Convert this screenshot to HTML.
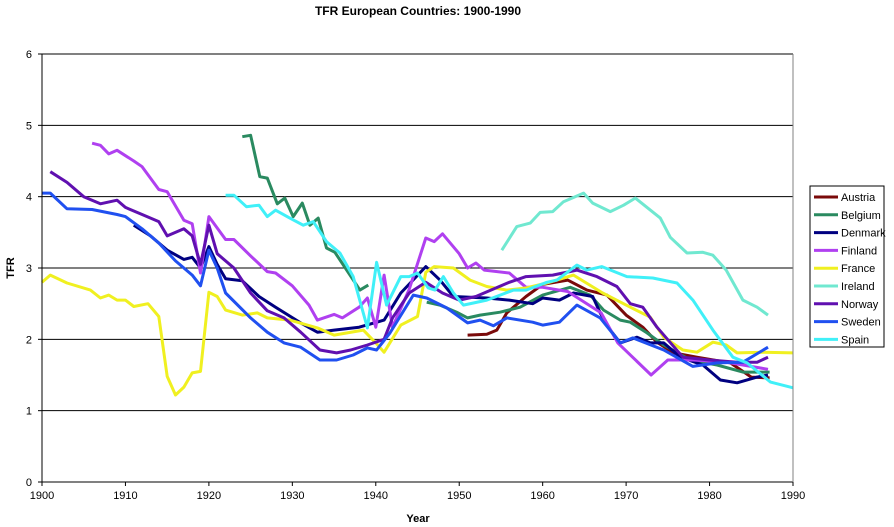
<!DOCTYPE html>
<html><head><meta charset="utf-8"><style>
body{margin:0;background:#fff}
svg{display:block;font-family:"Liberation Sans",sans-serif}
</style></head><body>
<svg id="chart" width="894" height="527" viewBox="0 0 894 527" xmlns="http://www.w3.org/2000/svg">
<text x="418" y="15" text-anchor="middle" font-size="12" font-weight="bold">TFR European Countries: 1900-1990</text>
<text x="418" y="522" text-anchor="middle" font-size="11" font-weight="bold">Year</text>
<text transform="translate(14,268) rotate(-90)" text-anchor="middle" font-size="11" font-weight="bold">TFR</text>
<g id="grid"></g><g id="series"></g><g id="axes"></g>
<g id="legend"></g>
</svg>
<script>
const NS="http://www.w3.org/2000/svg";
const yTicks=[0,1,2,3,4,5,6];
const xTicks=[1900,1910,1920,1930,1940,1950,1960,1970,1980,1990];
const names=["Austria","Belgium","Denmark","Finland","France","Ireland","Norway","Sweden","Spain"];
const colors=["#7a0a0a","#2a8a60","#000080","#b040f0","#f0f020","#70e8d0","#6010b0","#2050f0","#40f0f8"];
const austriaYears=[1951,1953.3,1954.5,1955.7,1958,1960,1963,1965.3,1967.7,1970,1972,1973.7,1975.7,1978.5,1982.5,1985,1987.2];
const austriaVals=[2.06,2.07,2.13,2.37,2.6,2.77,2.83,2.69,2.62,2.34,2.17,1.96,1.81,1.75,1.67,1.47,1.46];
const belgiumYears=[1924,1925,1926.1,1927,1928.2,1929.1,1930.1,1931.2,1932.1,1933.1,1934.1,1935.1,1938.1,1939.1,1942,1946.1,1947.7,1949.7,1951,1952.5,1954.9,1957.3,1960,1963.3,1965.7,1967.3,1969.3,1970.5,1972.5,1974.5,1977.7,1980.9,1984,1987.2];
const belgiumVals=[4.84,4.86,4.28,4.26,3.9,3.98,3.72,3.91,3.6,3.7,3.28,3.22,2.69,2.76,null,2.52,2.48,2.38,2.3,2.34,2.38,2.45,2.62,2.73,2.62,2.41,2.27,2.24,2.09,1.92,1.71,1.64,1.54,1.54];
const denmarkYears=[1911,1913,1915,1917,1918,1919,1920,1921,1922,1924,1926,1928,1931,1933,1935,1938,1941,1943,1946,1947.7,1949.3,1953.3,1956,1958.8,1960,1962,1963.7,1966,1966.9,1968.1,1969.3,1971.3,1972.9,1974.5,1976.5,1979.2,1981.3,1983.3,1985.7,1987];
const denmarkVals=[3.6,3.45,3.25,3.12,3.15,3.0,3.3,3.05,2.85,2.82,2.6,2.45,2.23,2.1,2.13,2.17,2.27,2.65,3.02,2.83,2.6,2.58,2.55,2.5,2.58,2.55,2.65,2.6,2.37,2.13,1.95,2.03,1.95,1.95,1.75,1.64,1.43,1.39,1.47,1.5];
const finlandYears=[1906,1907,1908,1909,1911,1912,1914,1915,1917,1918,1919,1920,1922,1923,1925,1927,1928,1930,1932,1933,1935,1936,1938,1939,1940,1941,1942,1944,1946,1947,1948,1950,1951,1952,1953,1956,1958,1960,1963,1967,1969,1973,1975,1978,1982,1987];
const finlandVals=[4.75,4.72,4.6,4.65,4.5,4.42,4.1,4.07,3.67,3.62,2.93,3.72,3.4,3.4,3.17,2.95,2.93,2.75,2.48,2.27,2.35,2.3,2.45,2.58,2.17,2.9,2.17,2.7,3.42,3.37,3.48,3.2,3.0,3.07,2.97,2.93,2.73,2.73,2.67,2.37,1.95,1.5,1.71,1.71,1.68,1.58];
const franceYears=[1900,1901,1903,1905.8,1907,1908,1909,1910,1911,1912.7,1914,1915,1916,1917,1918,1919,1920,1921,1922,1924,1925.8,1927,1929.7,1933,1935,1938.5,1940,1941,1943,1945,1946,1947,1949.3,1951.3,1953.3,1955.7,1958,1960.5,1963.7,1967.2,1970.5,1972.9,1974.5,1976.8,1978.5,1980.4,1982,1983.3,1986.4,1990];
const franceVals=[2.8,2.9,2.79,2.69,2.58,2.62,2.55,2.55,2.46,2.5,2.32,1.48,1.22,1.33,1.53,1.55,2.66,2.6,2.41,2.34,2.37,2.3,2.27,2.16,2.06,2.13,1.95,1.82,2.2,2.32,2.94,3.02,3.0,2.83,2.74,2.69,2.72,2.79,2.9,2.65,2.45,2.31,2.03,1.85,1.82,1.96,1.92,1.81,1.82,1.81];
const irelandYears=[1955.1,1956.9,1958.5,1959.7,1961.2,1962.5,1964.9,1966,1968.1,1969.7,1971.1,1974.1,1975.3,1977.3,1979.2,1980.4,1982,1984,1985.7,1987];
const irelandVals=[3.25,3.58,3.63,3.78,3.79,3.93,4.05,3.91,3.79,3.88,3.98,3.7,3.43,3.21,3.22,3.18,2.97,2.55,2.45,2.34];
const norwayYears=[1901,1903,1905,1907,1909,1910,1912,1914,1915,1917,1918,1919,1920,1921,1923,1925,1927,1929,1931,1933.3,1935.3,1937,1939,1941,1942,1944,1946,1948,1950,1952,1954,1956,1958,1961.2,1964.1,1966.5,1968.9,1970.5,1972,1973.7,1976.8,1980,1983.3,1985.7,1987];
const norwayVals=[4.35,4.2,4.0,3.9,3.95,3.85,3.75,3.65,3.45,3.55,3.45,3.05,3.6,3.2,3.0,2.65,2.4,2.3,2.1,1.85,1.81,1.85,1.92,2.0,2.3,2.65,2.8,2.65,2.55,2.6,2.7,2.8,2.88,2.9,2.97,2.88,2.74,2.5,2.45,2.17,1.75,1.71,1.68,1.68,1.75];
const swedenYears=[1900,1901,1903,1906,1909,1910,1912,1914,1916,1918,1919,1920,1921,1922,1925,1927,1929,1931,1933.3,1935.3,1937.3,1939,1940.1,1941.7,1944.5,1946.1,1948.5,1951,1952.5,1954.1,1955.7,1958.8,1960,1962,1964.1,1966.9,1969.3,1970.8,1974.5,1978,1980.9,1984,1987];
const swedenVals=[4.05,4.05,3.83,3.82,3.75,3.72,3.55,3.35,3.1,2.9,2.75,3.25,3.0,2.65,2.3,2.1,1.95,1.89,1.71,1.71,1.78,1.88,1.85,2.09,2.62,2.58,2.44,2.23,2.27,2.19,2.3,2.24,2.2,2.24,2.48,2.3,1.95,2.02,1.85,1.62,1.67,1.68,1.89];
const spainYears=[1922,1923,1924.5,1926,1927,1928,1929.7,1931.3,1932.5,1934.1,1935.7,1937.3,1939,1940.1,1941.3,1943,1944,1945,1946.3,1947.1,1948.1,1949.3,1950.5,1951.7,1953.3,1954.9,1956.5,1958,1960.5,1961.7,1964.1,1965.3,1967.1,1970.1,1973.2,1976.1,1978,1980.4,1982.8,1984.5,1987.3,1990];
const spainVals=[4.02,4.02,3.86,3.88,3.72,3.81,3.7,3.6,3.65,3.37,3.21,2.88,2.16,3.08,2.48,2.88,2.88,2.93,2.72,2.69,2.88,2.65,2.48,2.51,2.55,2.62,2.69,2.69,2.8,2.83,3.04,2.97,3.02,2.88,2.86,2.79,2.55,2.13,1.75,1.67,1.4,1.32];
const allYears=[austriaYears,belgiumYears,denmarkYears,finlandYears,franceYears,irelandYears,norwayYears,swedenYears,spainYears];
const allVals=[austriaVals,belgiumVals,denmarkVals,finlandVals,franceVals,irelandVals,norwayVals,swedenVals,spainVals];

const L=42,R=793,T=54,B=482;
function xs(y){return L+(y-1900)/90*(R-L);}
function ys(v){return B-v/6*(B-T);}
function mk(tag,attrs,parent){const e=document.createElementNS(NS,tag);for(const k in attrs)e.setAttribute(k,attrs[k]);parent.appendChild(e);return e;}
const grid=document.getElementById('grid'),axes=document.getElementById('axes'),ser=document.getElementById('series'),leg=document.getElementById('legend');
yTicks.forEach(t=>{
  const l=mk('line',{x1:L,x2:R,y1:ys(t),y2:ys(t),stroke:'#000','stroke-width':1},grid);
  
  
  const tx=mk('text',{x:L-10,y:ys(t)+4,'text-anchor':'end','font-size':11},axes);
  tx.textContent=t;
  
  
  mk('line',{x1:L-4,x2:L,y1:ys(t),y2:ys(t),stroke:'#000'},axes);
});
mk('line',{x1:L,x2:L,y1:T,y2:B+4,stroke:'#000'},axes);
mk('line',{x1:R,x2:R,y1:T,y2:B,stroke:'#808080'},axes);
xTicks.forEach(t=>{
  const tx=mk('text',{x:xs(t),y:499,'text-anchor':'middle','font-size':11},axes);
  tx.textContent=t;
  
  
  mk('line',{x1:xs(t),x2:xs(t),y1:B,y2:B+4,stroke:'#000'},axes);
});
names.forEach((n,i)=>{
  let d='',pen=false;
  allYears[i].forEach((yr,j)=>{const v=allVals[i][j];if(v===null){pen=false;return;}d+=(pen?'L':'M')+xs(yr).toFixed(1)+','+ys(v).toFixed(1);pen=true;});
  const p=mk('path',{d:d,fill:'none',stroke:colors[i],'stroke-width':3,'stroke-linejoin':'round'},ser);
  
  
});
mk('rect',{x:810,y:186,width:74,height:161,fill:'#fff',stroke:'#000'},leg);
names.forEach((n,i)=>{
  const y=197+i*17.8;
  const g=mk('g',{},leg);
  
  
  mk('line',{x1:814,x2:838,y1:y,y2:y,stroke:colors[i],'stroke-width':3},g);
  const t=mk('text',{x:841,y:y+4,'font-size':11},g);t.textContent=n;
});
</script>
</body></html>
